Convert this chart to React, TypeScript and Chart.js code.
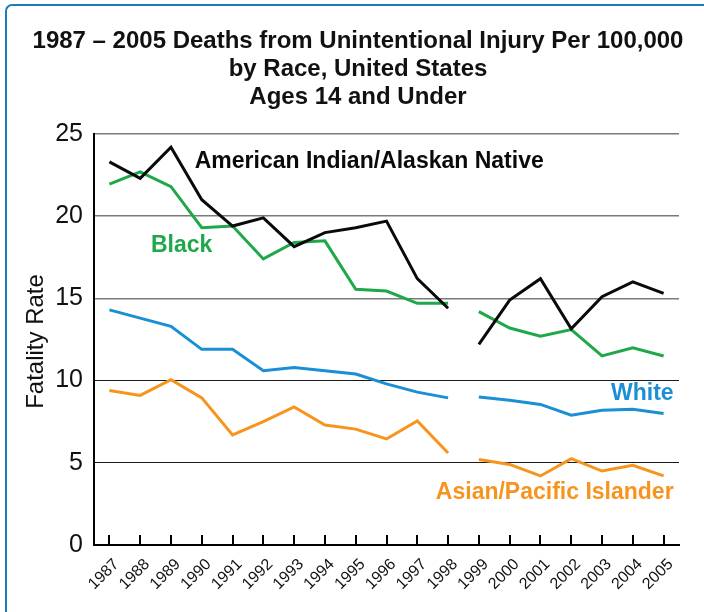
import React, { useEffect, useRef } from "react";
import { Chart, registerables } from "chart.js";

Chart.register(...registerables);

const years = [
  "1987", "1988", "1989", "1990", "1991", "1992", "1993", "1994", "1995", "1996",
  "1997", "1998", "1999", "2000", "2001", "2002", "2003", "2004", "2005",
];

const americanIndian = [23.3, 22.3, 24.2, 21.0, 19.4, 19.9, 18.15, 19.0, 19.3, 19.7, 16.2, 14.4, 12.2, 14.9, 16.2, 13.15, 15.1, 16.0, 15.3];
const black = [21.95, 22.7, 21.8, 19.3, 19.4, 17.4, 18.4, 18.5, 15.55, 15.45, 14.7, 14.7, 14.2, 13.2, 12.7, 13.1, 11.5, 12.0, 11.5];
const white = [14.3, 13.8, 13.3, 11.9, 11.9, 10.6, 10.8, 10.6, 10.4, 9.8, 9.3, 8.95, 9.0, 8.8, 8.55, 7.9, 8.2, 8.25, 8.0];
const asian = [9.4, 9.1, 10.05, 8.95, 6.7, 7.5, 8.4, 7.3, 7.05, 6.45, 7.55, 5.6, 5.2, 4.9, 4.2, 5.25, 4.5, 4.85, 4.2];

const yTicks = [0, 5, 10, 15, 20, 25];
const gapAfterIndex = 11; // break between 1998 and 1999

const titleLines = [
  "1987 – 2005 Deaths from Unintentional Injury Per 100,000",
  "by Race, United States",
  "Ages 14 and Under",
];

const COLORS = {
  ai: "#0a0a0a",
  black: "#1fa84a",
  white: "#1a8fd6",
  asian: "#f7941e",
};

const FONT = '"Liberation Sans", Arial, Helvetica, sans-serif';

function makeDataset(label: string, data: number[], color: string) {
  return {
    label,
    data,
    borderColor: color,
    backgroundColor: color,
    borderWidth: 3,
    pointRadius: 0,
    tension: 0,
    fill: false,
    segment: {
      borderColor: (ctx: any) => (ctx.p0DataIndex === gapAfterIndex ? "rgba(0,0,0,0)" : color),
    },
  };
}

const annotationPlugin = {
  id: "annotations",
  afterDatasetsDraw(chart: any) {
    const { ctx, scales } = chart;
    const x = scales.x;
    const y = scales.y;
    ctx.save();
    // x tick marks pointing up from the axis
    ctx.strokeStyle = "#000";
    ctx.lineWidth = 2;
    const bottom = chart.chartArea.bottom;
    for (let i = 0; i < years.length; i++) {
      const px = Math.round(x.getPixelForTick(i));
      ctx.beginPath();
      ctx.moveTo(px, bottom);
      ctx.lineTo(px, bottom - 10);
      ctx.stroke();
    }
    // inline series labels
    ctx.font = `bold 23px ${FONT}`;
    ctx.textBaseline = "middle";
    ctx.textAlign = "left";
    ctx.fillStyle = COLORS.ai;
    ctx.fillText("American Indian/Alaskan Native", x.getPixelForValue(3) - 7, y.getPixelForValue(23.3));
    ctx.fillStyle = COLORS.black;
    ctx.fillText("Black", x.getPixelForValue(2) - 20, y.getPixelForValue(18.2));
    ctx.textAlign = "right";
    ctx.fillStyle = COLORS.white;
    ctx.fillText("White", x.getPixelForValue(18) + 10, y.getPixelForValue(9.2));
    ctx.fillStyle = COLORS.asian;
    ctx.fillText("Asian/Pacific Islander", x.getPixelForValue(18) + 10, y.getPixelForValue(3.16));

    // title
    ctx.fillStyle = "#111";
    ctx.textAlign = "center";
    ctx.font = `bold 24px ${FONT}`;
    titleLines.forEach((line, i) => {
      ctx.fillText(line, 358, 41 + i * 28);
    });

    // y axis title
    ctx.save();
    ctx.translate(36, (chart.chartArea.top + chart.chartArea.bottom) / 2 + 2);
    ctx.rotate(-Math.PI / 2);
    ctx.font = `24px ${FONT}`;
    ctx.textAlign = "center";
    ctx.fillStyle = "#111";
    ctx.fillText("Fatality Rate", 0, 0);
    ctx.restore();
    ctx.restore();
  },
};

export default function App() {
  const canvasRef = useRef<HTMLCanvasElement | null>(null);

  useEffect(() => {
    document.body.style.overflow = "hidden";
    const canvas = canvasRef.current;
    if (!canvas) return;
    const chart = new Chart(canvas, {
      type: "line",
      data: {
        labels: years,
        datasets: [
          makeDataset("American Indian/Alaskan Native", americanIndian, COLORS.ai),
          makeDataset("Black", black, COLORS.black),
          makeDataset("White", white, COLORS.white),
          makeDataset("Asian/Pacific Islander", asian, COLORS.asian),
        ],
      },
      options: {
        responsive: false,
        animation: false,
        devicePixelRatio: 1,
        layout: { padding: { left: 0, top: 134, right: 25, bottom: 0 } },
        plugins: {
          legend: { display: false },
          title: { display: false },
          tooltip: { enabled: false },
        },
        scales: {
          x: {
            type: "category",
            offset: true,
            grid: { display: false, drawTicks: false },
            border: { display: true, color: "#000", width: 2 },
            ticks: {
              autoSkip: false,
              maxRotation: 45,
              minRotation: 45,
              padding: 10,
              labelOffset: 7,
              color: "#111",
              font: { family: FONT, size: 16 },
            },
            afterFit: (scale: any) => {
              scale.height = 67;
            },
          },
          y: {
            min: 0,
            max: 25,
            afterBuildTicks: (scale: any) => {
              scale.ticks = yTicks.map((v) => ({ value: v }));
            },
            grid: {
              drawTicks: false,
              color: (ctx: any) => (ctx.tick && ctx.tick.value >= 15 ? "#7a7a7a" : "#1a1a1a"),
              lineWidth: (ctx: any) => (ctx.tick && ctx.tick.value >= 15 ? 1.5 : 1),
            },
            border: { display: true, color: "#000", width: 2 },
            ticks: {
              padding: 11,
              color: "#111",
              font: { family: FONT, size: 25 },
            },
            afterFit: (scale: any) => {
              scale.width = 94;
            },
          },
        },
      },
      plugins: [annotationPlugin],
    });
    return () => chart.destroy();
  }, []);

  return (
    <div
      style={{
        position: "absolute",
        left: 0,
        top: 0,
        width: 704,
        height: 612,
        overflow: "hidden",
        background: "#fff",
      }}
    >
      <div
        style={{
          position: "absolute",
          left: 5,
          top: 4,
          width: 780,
          height: 700,
          border: "2px solid #1a7db8",
          borderRadius: 7,
          boxSizing: "border-box",
        }}
      />
      <canvas
        ref={canvasRef}
        width={704}
        height={612}
        style={{ position: "absolute", left: 0, top: 0, width: 704, height: 612 }}
      />
    </div>
  );
}
